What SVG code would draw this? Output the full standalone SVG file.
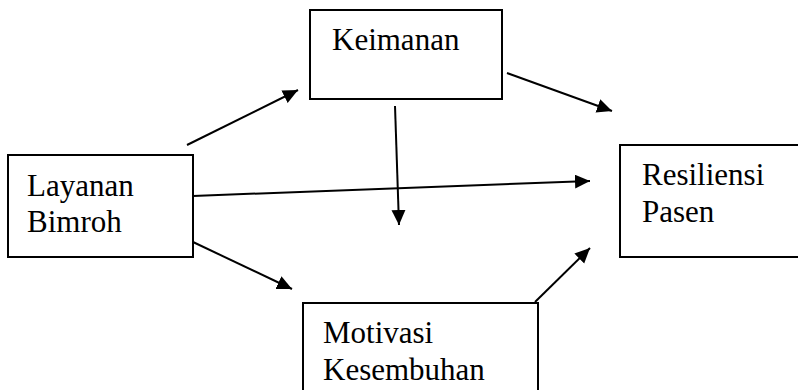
<svg xmlns="http://www.w3.org/2000/svg" width="798" height="390" viewBox="0 0 798 390">
<style>
.box{fill:#fff;stroke:#000;stroke-width:2}
.lbl{font-family:"Liberation Serif","Times New Roman",serif;font-size:31px;fill:#000}
.conn{stroke:#000;stroke-width:2;fill:none;marker-end:url(#ah)}
</style>
<defs>
<marker id="ah" markerUnits="userSpaceOnUse" markerWidth="16" markerHeight="15" refX="15" refY="7" orient="auto" viewBox="0 0 16 15">
<path d="M0,0 L15,7 L0,14 z" fill="#000"/>
</marker>
</defs>
<rect width="798" height="390" fill="#fff"/>
<g id="connectors">
<line class="conn" x1="187" y1="145" x2="298" y2="90"/>
<line class="conn" x1="507" y1="73" x2="612" y2="111"/>
<line class="conn" x1="395" y1="106" x2="399" y2="225"/>
<line class="conn" x1="193" y1="196" x2="590" y2="181"/>
<line class="conn" x1="193" y1="242" x2="292" y2="289"/>
<line class="conn" x1="535" y1="302" x2="590" y2="248"/>
</g>
<g id="layanan">
<rect class="box" x="8" y="155" width="185" height="102"/>
<text class="lbl" x="27" y="196">Layanan</text>
<text class="lbl" x="27" y="232">Bimroh</text>
</g>
<g id="keimanan">
<rect class="box" x="310" y="10" width="192" height="89"/>
<text class="lbl" x="332" y="50">Keimanan</text>
</g>
<g id="resiliensi">
<rect class="box" x="620" y="145" width="190" height="112"/>
<text class="lbl" x="642" y="185">Resiliensi</text>
<text class="lbl" x="642" y="222">Pasen</text>
</g>
<g id="motivasi">
<rect class="box" x="303" y="303" width="235" height="100"/>
<text class="lbl" x="323" y="343">Motivasi</text>
<text class="lbl" x="323" y="380">Kesembuhan</text>
</g>
</svg>
